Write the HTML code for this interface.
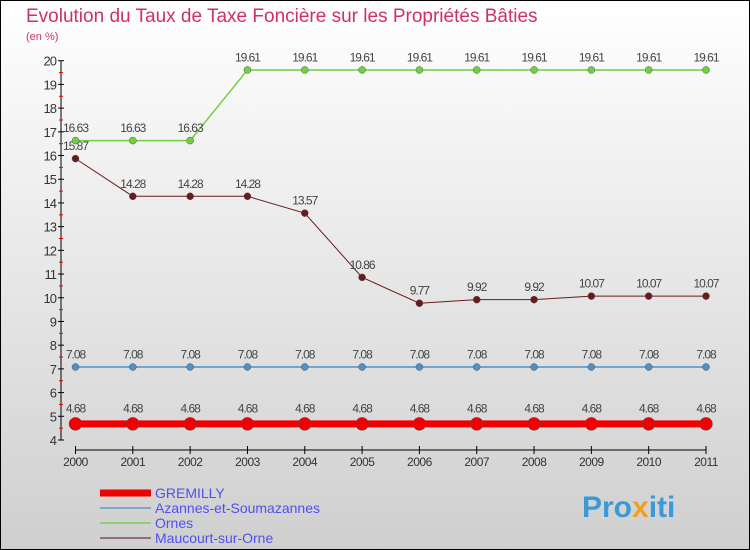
<!DOCTYPE html>
<html><head><meta charset="utf-8"><style>
body{margin:0}
svg{display:block;font-family:"Liberation Sans",sans-serif}
</style></head><body>
<svg id="c" width="750" height="550" viewBox="0 0 750 550">
<defs><linearGradient id="bg" x1="0" y1="0" x2="0" y2="1"><stop offset="0" stop-color="#ffffff"/><stop offset="1" stop-color="#cfcfcf"/></linearGradient></defs>
<rect x="0.5" y="0.5" width="749" height="549" fill="url(#bg)" stroke="#000"/>
<text x="26" y="22" font-size="19" fill="#d03068">Evolution du Taux de Taxe Foncière sur les Propriétés Bâties</text>
<text x="26" y="40" font-size="11" fill="#d03068">(en %)</text>
<g id="axes"></g><g id="marks"></g><g id="legend"></g>
<text x="582" y="517" font-size="30" font-weight="bold" fill="#3a9ad8">Pro<tspan fill="#f0a020">x</tspan>iti</text>
</svg>
<script>
const years=["2000","2001","2002","2003","2004","2005","2006","2007","2008","2009","2010","2011"];
const gremilly=[4.68,4.68,4.68,4.68,4.68,4.68,4.68,4.68,4.68,4.68,4.68,4.68];
const azannes=[7.08,7.08,7.08,7.08,7.08,7.08,7.08,7.08,7.08,7.08,7.08,7.08];
const ornes=[16.63,16.63,16.63,19.61,19.61,19.61,19.61,19.61,19.61,19.61,19.61,19.61];
const maucourt=[15.87,14.28,14.28,14.28,13.57,10.86,9.77,9.92,9.92,10.07,10.07,10.07];
const yTicks=[4,5,6,7,8,9,10,11,12,13,14,15,16,17,18,19,20];
const NS="http://www.w3.org/2000/svg";
const x=i=>75.5+i*(706-75.5)/11;
const y=v=>440-(v-4)*(440-60.7)/16;
function mk(t,a,p){const e=document.createElementNS(NS,t);for(const k in a)e.setAttribute(k,a[k]);p.appendChild(e);return e;}
const ax=document.getElementById('axes');
let e=mk('line',{x1:61,y1:y(20),x2:61,y2:y(4),stroke:'#000'},ax);

yTicks.forEach(v=>{
 mk('line',{x1:58,x2:64,y1:y(v),y2:y(v),stroke:'#000'},ax);
 if(v<20)mk('line',{x1:59,x2:63,y1:y(v+0.5),y2:y(v+0.5),stroke:'#e00'},ax);
 const t=mk('text',{x:56,y:y(v)+5,'text-anchor':'end','font-size':13,fill:'#333','letter-spacing':'-1'},ax);t.textContent=v;
 
});
e=mk('line',{x1:x(0),x2:x(11),y1:450,y2:450,stroke:'#000'},ax);

years.forEach((yr,i)=>{
 mk('line',{x1:x(i),x2:x(i),y1:446,y2:454,stroke:'#000'},ax);
 const t=mk('text',{x:x(i),y:466,'text-anchor':'middle','font-size':12,fill:'#333','letter-spacing':'-0.5'},ax);t.textContent=yr;
 
});
const mg=document.getElementById('marks');
const series=[
 {n:'maucourt',d:maucourt,c:'#6b1a1a',w:1,r:3.5},
 {n:'ornes',d:ornes,c:'#70d040',w:1.5,r:3.5},
 {n:'azannes',d:azannes,c:'#5090c8',w:1.5,r:3.5},
 {n:'gremilly',d:gremilly,c:'#f00000',w:7,r:6.5}];
series.forEach(s=>{
 const p=mk('polyline',{points:s.d.map((v,i)=>x(i)+','+y(v)).join(' '),fill:'none',stroke:s.c,'stroke-width':s.w},mg);
 
 s.d.forEach((v,i)=>{
  const c=mk('circle',{cx:x(i),cy:y(v),r:s.r,fill:s.c,stroke:'#555','stroke-width':0.5},mg);
  
  const t=mk('text',{x:x(i),y:y(v)-(s.r+5),'text-anchor':'middle','font-size':12,fill:'#444','letter-spacing':'-1'},mg);
  t.textContent=String(v).replace('.','.');
  
 });
});
const lg=document.getElementById('legend');
const items=[['GREMILLY','#f00000',7],['Azannes-et-Soumazannes','#80a8c8',2],['Ornes','#90d070',2],['Maucourt-sur-Orne','#907070',2]];
items.forEach((it,i)=>{
 const yy=493+i*15;
 const l=mk('line',{x1:100,x2:151,y1:yy,y2:yy,stroke:it[1],'stroke-width':it[2]},lg);
 
 const t=mk('text',{x:155,y:yy+5,'font-size':14,fill:'#5050f0'},lg);t.textContent=it[0];
 
});
</script>
</body></html>
